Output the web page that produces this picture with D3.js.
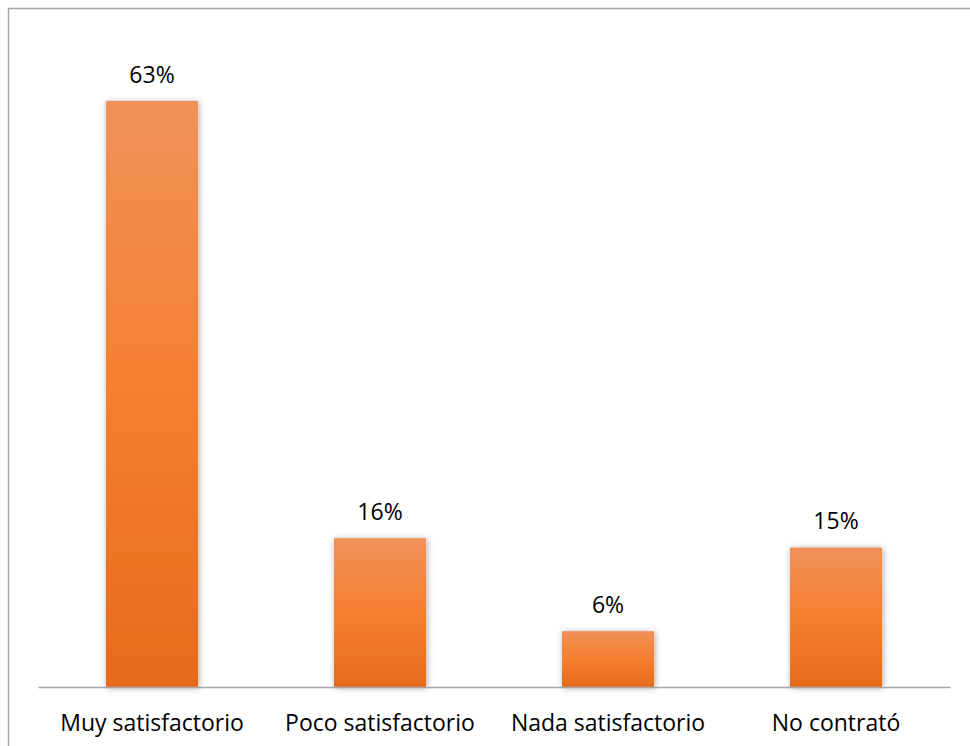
<!DOCTYPE html>
<html><head><meta charset="utf-8">
<script src="https://cdn.jsdelivr.net/npm/d3@7"></script>
<style>body{margin:0;background:#fff}svg{display:block}</style>
</head><body>
<script>
const categories = ["Muy satisfactorio", "Poco satisfactorio", "Nada satisfactorio", "No contrató"];
const values = [63, 16, 6, 15];
const valueLabels = ["63%", "16%", "6%", "15%"];

const W = 970, H = 746;
const FONT = "'Open Sans', Lato, sans-serif";
const FS = 23;
const svg = d3.select("body").append("svg").attr("width", W).attr("height", H);
const defs = svg.append("defs");
const g = defs.append("linearGradient").attr("id", "bg").attr("x1", 0).attr("y1", 0).attr("x2", 0).attr("y2", 1);
g.append("stop").attr("offset", "0%").attr("stop-color", "#f0915a");
g.append("stop").attr("offset", "50%").attr("stop-color", "#f57f2e");
g.append("stop").attr("offset", "100%").attr("stop-color", "#e56b1c");
const f = defs.append("filter").attr("id", "sh").attr("x", "-20%").attr("y", "-20%").attr("width", "140%").attr("height", "140%");
f.append("feDropShadow").attr("dx", 1).attr("dy", 1).attr("stdDeviation", 3).attr("flood-color", "#000").attr("flood-opacity", 0.35);

// chart border
svg.append("rect").attr("x", 8.5).attr("y", 8.5).attr("width", 980).attr("height", 760)
  .attr("fill", "none").attr("stroke", "#a6a6a6").attr("stroke-width", 1.5);

const x = d3.scaleBand().domain(categories).range([38, 950]).paddingInner(0.596).paddingOuter(0.298);
const y = d3.scaleLinear().domain([0, 70]).range([687, 687 - 586 * 70 / 63]);

svg.append("g").selectAll("rect").data(values).join("rect")
  .attr("x", (d, i) => x(categories[i]))
  .attr("y", d => y(d))
  .attr("width", x.bandwidth())
  .attr("height", d => y(0) - y(d))
  .attr("fill", "url(#bg)")
  .attr("filter", "url(#sh)");

const axis = d3.axisBottom(x).tickSize(0).tickPadding(28);
const ax = svg.append("g").attr("transform", `translate(0,${y(0)})`).call(axis);
ax.select(".domain").attr("stroke", "#a6a6a6").attr("stroke-width", 1.5);
ax.selectAll("text").attr("font-family", FONT).attr("font-size", FS).attr("fill", "#000");

svg.append("g").selectAll("text").data(values).join("text")
  .attr("x", (d, i) => x(categories[i]) + x.bandwidth() / 2)
  .attr("y", d => y(d) - 18)
  .attr("text-anchor", "middle")
  .attr("font-family", FONT)
  .attr("font-size", FS)
  .attr("fill", "#000")
  .text((d, i) => valueLabels[i]);
</script>
</body></html>
